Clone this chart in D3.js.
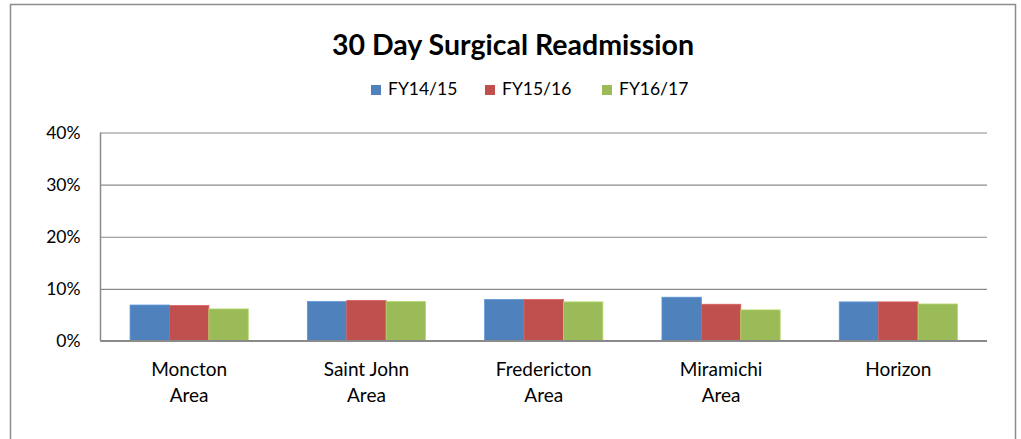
<!DOCTYPE html>
<html><head><meta charset="utf-8">
<script src="https://cdn.jsdelivr.net/npm/d3@7"></script>
<style>body{margin:0;background:#fff}svg{display:block}text{font-family:Lato,"Open Sans",sans-serif;fill:#000}</style>
</head><body><svg id="c" width="1021" height="439"></svg>
<script>
const categories = [["Moncton","Area"],["Saint John","Area"],["Fredericton","Area"],["Miramichi","Area"],["Horizon"]];
const seriesNames = ["FY14/15","FY15/16","FY16/17"];
const fy1415 = [0.069, 0.0756, 0.0795, 0.084, 0.075];
const fy1516 = [0.068, 0.0775, 0.0795, 0.0705, 0.075];
const fy1617 = [0.0615, 0.0756, 0.075, 0.0596, 0.071];
const yTicks = [0, 0.1, 0.2, 0.3, 0.4];
const colors = ["#4F81BD","#C0504D","#9BBB59"];
const series = [fy1415, fy1516, fy1617];

const svg = d3.select("#c");
svg.append("rect").attr("x",10.5).attr("y",4.5).attr("width",1005).attr("height",450)
  .attr("fill","#fff").attr("stroke","#8c8c8c").attr("stroke-width",1.5);

const L=100.5, R=987, T=132.5, B=341;
const y = d3.scaleLinear().domain([0,0.4]).range([B,T]);
const x0 = d3.scaleBand().domain(d3.range(categories.length)).range([L,R]).paddingInner(1/3).paddingOuter(1/6);
const x1 = d3.scaleBand().domain(d3.range(3)).range([0,x0.bandwidth()]);

svg.append("text").attr("x",513).attr("y",55).attr("text-anchor","middle")
  .style("font-size","28.5px").style("font-weight","bold").text("30 Day Surgical Readmission");

const legX=[371,485,602];
seriesNames.forEach((n,i)=>{
  svg.append("rect").attr("x",legX[i]).attr("y",85).attr("width",10).attr("height",10).attr("fill",colors[i]);
  svg.append("text").attr("x",legX[i]+17).attr("y",95).style("font-size","17.5px").text(n);
});

const yAxis = d3.axisLeft(y).tickValues(yTicks).tickFormat(d3.format(".0%")).tickSize(-(R-L)).tickPadding(20);
const ga = svg.append("g").attr("transform",`translate(${L},0)`).call(yAxis);
ga.select(".domain").remove();
ga.selectAll(".tick line").attr("stroke","#8a8a8a").attr("stroke-width",1.2);
ga.selectAll(".tick text").style("font-size","17.5px").attr("fill","#000").attr("font-family",null);

series.forEach((s,si)=>{
  svg.append("g").selectAll("rect").data(s).join("rect")
    .attr("x",(d,i)=>x0(i)+x1(si)).attr("width",x1.bandwidth())
    .attr("y",d=>y(d)).attr("height",d=>B-y(d))
    .attr("fill",colors[si]).attr("stroke",d3.color(colors[si]).brighter(0.4)).attr("stroke-width",0.8);
});

svg.append("line").attr("x1",L).attr("x2",L).attr("y1",T).attr("y2",B).attr("stroke","#8a8a8a").attr("stroke-width",1.5);
svg.append("line").attr("x1",L).attr("x2",R).attr("y1",B).attr("y2",B).attr("stroke","#8a8a8a").attr("stroke-width",1.8);

categories.forEach((c,i)=>{
  const t = svg.append("text").attr("x",x0(i)+x0.bandwidth()/2).attr("y",376).attr("text-anchor","middle").style("font-size","19px");
  c.forEach((line,j)=>t.append("tspan").attr("x",x0(i)+x0.bandwidth()/2).attr("dy",j?26:0).text(line));
});
</script></body></html>
